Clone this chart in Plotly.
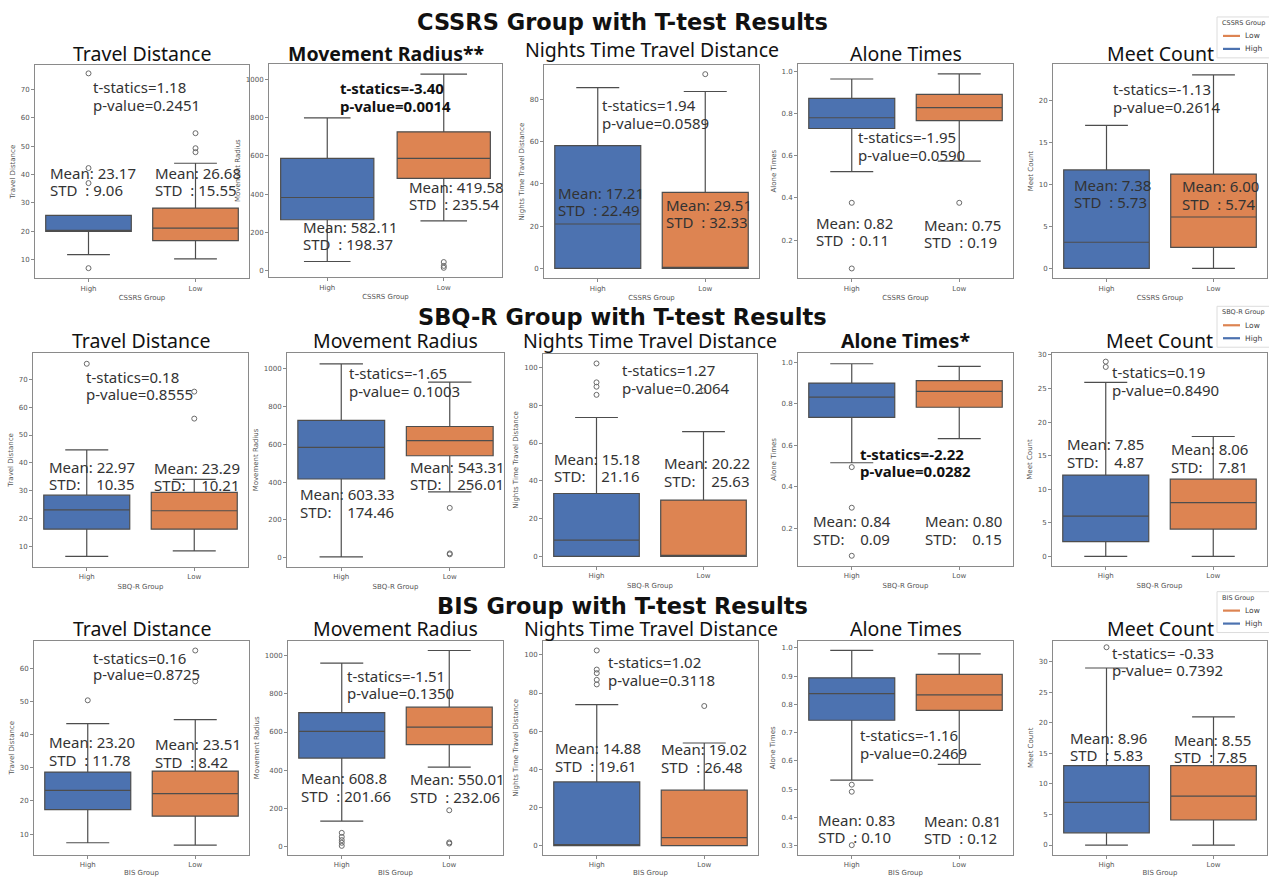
import plotly.graph_objects as go

W, H = 1269, 877

# ---------------- data ----------------
GROUPS = ["CSSRS Group", "SBQ-R Group", "BIS Group"]
ROW_TITLES = [g + " with T-test Results" for g in GROUPS]
METRICS = ["Travel Distance", "Movement Radius", "Nights Time Travel Distance", "Alone Times", "Meet Count"]
STARS = [["", "**", "", "", ""], ["", "", "", "*", ""], ["", "", "", "", ""]]
CATS = ["High", "Low"]
LEGEND_ORDER = ["Low", "High"]

# box statistics [row][metric]
HIGH_LO = [[11.8, 48, 0, 0.525, 0], [6.4, 5, 0, 0.516, 0], [7.4, 134, 0, 0.532, 0]]
HIGH_Q1 = [[20.0, 266, 0, 0.730, 0], [16.2, 417, 0, 0.735, 2.2], [17.4, 464, 0, 0.744, 2.0]]
HIGH_MED = [[20.0, 382, 21.0, 0.781, 3.1], [23.1, 584, 8.6, 0.833, 6.0], [23.2, 603, 0.5, 0.838, 7.0]]
HIGH_Q3 = [[25.6, 586, 58.0, 0.873, 11.7], [28.4, 727, 33.3, 0.901, 12.1], [28.7, 701, 33.4, 0.894, 13.0]]
HIGH_HI = [[25.6, 798, 85.4, 0.965, 17.0], [44.7, 1026, 73.5, 0.994, 25.9], [43.3, 960, 73.9, 0.991, 29.0]]
HIGH_OUT = [
    [[75.7, 42.3, 37.0, 7.0], [], [], [0.377, 0.065], []],
    [[75.6], [], [102.1, 92.1, 89.8, 85.5], [0.495, 0.299, 0.067], [29.0, 28.2]],
    [[50.3], [73, 52, 35, 21, 5], [102.3, 92.3, 90.4, 86.9, 84.5], [0.516, 0.491, 0.302], [32.4]],
]
LOW_LO = [[10.3, 260, 0, 0.575, 0], [8.4, 349, 0, 0.633, 0], [6.7, 417, 0, 0.588, 0]]
LOW_Q1 = [[16.7, 482, 0, 0.767, 2.5], [16.2, 540, 0, 0.784, 4.07], [15.4, 534, 0, 0.779, 4.1]]
LOW_MED = [[21.1, 586, 0.5, 0.829, 6.1], [22.8, 620, 0.5, 0.861, 8.0], [22.2, 626, 4.2, 0.834, 8.0]]
LOW_Q3 = [[28.2, 725, 35.9, 0.892, 11.2], [29.4, 695, 29.8, 0.913, 11.5], [29.0, 730, 29.1, 0.906, 13.0]]
LOW_HI = [[44.0, 1026, 83.6, 0.989, 23.0], [34.1, 930, 66.0, 0.981, 17.85], [44.5, 1026, 53.8, 0.979, 21.0]]
LOW_OUT = [
    [[54.6, 49.3, 47.9], [45, 25, 15], [91.8], [0.377], []],
    [[55.9, 65.6], [264, 23, 18], [87.7], [], []],
    [[65.3, 56.0], [191, 23, 17], [73.2], [], []],
]

T_STAT = [["1.18", "-3.40", "1.94", "-1.95", "-1.13"],
          ["0.18", "-1.65", "1.27", "-2.22", "0.19"],
          ["0.16", "-1.51", "1.02", "-1.16", " -0.33"]]
P_VALUE = [["0.2451", "0.0014", "0.0589", "0.0590", "0.2614"],
           ["0.8555", " 0.1003", "0.2064", "0.0282", "0.8490"],
           ["0.8725", "0.1350", "0.3118", "0.2469", " 0.7392"]]

MEAN_HIGH = [["23.17", "582.11", "17.21", "0.82", "7.38"],
             ["22.97", "603.33", "15.18", "0.84", "7.85"],
             ["23.20", "608.8", "14.88", "0.83", "8.96"]]
STD_HIGH = [["9.06", "198.37", "22.49", "0.11", "5.73"],
            ["10.35", "174.46", "21.16", "0.09", "4.87"],
            ["11.78", "201.66", "19.61", "0.10", "5.83"]]
MEAN_LOW = [["26.68", "419.58", "29.51", "0.75", "6.00"],
            ["23.29", "543.31", "20.22", "0.80", "8.06"],
            ["23.51", "550.01", "19.02", "0.81", "8.55"]]
STD_LOW = [["15.55", "235.54", "32.33", "0.19", "5.74"],
           ["10.21", "256.01", "25.63", "0.15", "7.81"],
           ["8.42", "232.06", "26.48", "0.12", "7.85"]]

# ---------------- layout / style ----------------
NB = "\u00a0"
LABEL_FMT = [("Mean: {}", "STD" + NB * 2 + ": {}"),
             ("Mean: {}", "STD:" + NB * 4 + "{}"),
             ("Mean: {}", "STD" + NB * 2 + ": {}")]

# axes frames in window pixels (left, right, top, bottom)
FRAMES = [
    [(35, 249, 63, 277), (269, 502, 62, 276), (544, 759, 63, 277), (798, 1013, 62, 277), (1053, 1267, 62, 277)],
    [(33, 248, 352, 566), (287, 504, 352, 566), (543, 757, 353, 565), (798, 1013, 352, 565), (1052, 1267, 352, 565)],
    [(34, 249, 640, 855), (288, 503, 640, 855), (543, 758, 640, 855), (798, 1013, 640, 855), (1053, 1267, 640, 855)],
]
Y_RANGE = [
    [[3.4, 78.7], [-35, 1080], [-4.7, 96.2], [0.018, 1.037], [-1.19, 24.3]],
    [[2.7, 79.4], [-47.5, 1083], [-4.9, 107], [0.019, 1.045], [-1.39, 30.25]],
    [[3.7, 68.3], [-43, 1078], [-4.9, 107.5], [0.267, 1.026], [-1.64, 33.5]],
]
Y_DTICK = [[10, 200, 20, 0.2, 5], [10, 200, 20, 0.2, 5], [10, 200, 20, 0.1, 5]]

# text positions in window pixels: (x_left, y_line1, y_line2)
T_POS = [
    [(91, 85, 103), (338, 86, 104), (600, 103, 121), (856, 135, 153), (1111, 87, 105)],
    [(84, 376, 393), (347, 372, 390), (620, 369, 387), (858, 453, 470), (1110, 371, 389)],
    [(91, 657, 674), (345, 676, 693), (606, 662, 680), (858, 735, 753), (1110, 652, 670)],
]
MH_POS = [
    [(48, 171, 188), (301, 226, 243), (556, 191, 208), (814, 222, 239), (1072, 183, 200)],
    [(47, 466, 483), (298, 493, 511), (552, 458, 475), (811, 520, 538), (1065, 443, 461)],
    [(47, 742, 760), (299, 778, 796), (553, 748, 766), (816, 820, 837), (1068, 738, 755)],
]
ML_POS = [
    [(153, 171, 188), (407, 185, 202), (664, 203, 221), (922, 224, 241), (1180, 184, 202)],
    [(152, 467, 484), (408, 466, 483), (662, 462, 480), (923, 520, 538), (1169, 448, 466)],
    [(153, 744, 762), (408, 779, 797), (659, 749, 767), (922, 821, 838), (1172, 740, 757)],
]
TITLE_Y = [[52, 52, 48, 52, 52], [339, 339, 339, 339, 339], [628, 628, 628, 628, 628]]
ROW_TITLE_Y = [20, 316, 605]
LEGEND_TOP = [15, 305, 591]
LEGEND_LEFT = 1217

BLUE = "#4C72B0"
ORANGE = "#DD8452"
LINE = "#4d4d4d"
TXT = "#333333"
FONT = "Noto Sans"
SMALL = "DejaVu Sans"


def fx(p):
    return p / W


def fy(p):
    return 1 - p / H


fig = go.Figure()
annotations = []
shapes = []
layout = {}

for r in range(3):
    for c in range(5):
        i = r * 5 + c + 1
        xr = "x" if i == 1 else f"x{i}"
        yr = "y" if i == 1 else f"y{i}"
        xkey = "xaxis" if i == 1 else f"xaxis{i}"
        ykey = "yaxis" if i == 1 else f"yaxis{i}"
        L, R, T, B = FRAMES[r][c]

        stats = [
            (0, CATS[0], HIGH_LO, HIGH_Q1, HIGH_MED, HIGH_Q3, HIGH_HI, HIGH_OUT, BLUE),
            (1, CATS[1], LOW_LO, LOW_Q1, LOW_MED, LOW_Q3, LOW_HI, LOW_OUT, ORANGE),
        ]
        for pos, nm, lo, q1, med, q3, hi, outs, col in stats:
            fig.add_trace(go.Box(
                x=[pos], lowerfence=[lo[r][c]], q1=[q1[r][c]], median=[med[r][c]],
                q3=[q3[r][c]], upperfence=[hi[r][c]], name=nm,
                width=0.8, whiskerwidth=0.5, fillcolor=col,
                line=dict(color=LINE, width=1.2), boxpoints=False,
                showlegend=False, hoverinfo="skip", xaxis=xr, yaxis=yr,
            ))
            o = outs[r][c]
            if o:
                fig.add_trace(go.Scatter(
                    x=[pos] * len(o), y=o, mode="markers", name=nm,
                    marker=dict(symbol="circle-open", size=5, color="#6a6a6a", line=dict(width=1)),
                    showlegend=False, hoverinfo="skip", xaxis=xr, yaxis=yr,
                ))

        axis_common = dict(showline=True, mirror=True, linecolor="#8a8a8a", linewidth=1,
                           showgrid=False, zeroline=False, ticks="outside", ticklen=3,
                           tickcolor="#8a8a8a", tickfont=dict(size=7, color="#555", family=SMALL))
        layout[xkey] = dict(domain=[fx(L), fx(R)], anchor=yr, range=[-0.5, 1.5],
                            tickmode="array", tickvals=[0, 1], ticktext=CATS,
                            title=dict(text=GROUPS[r], font=dict(size=7, color="#555", family=SMALL), standoff=3),
                            **axis_common)
        ydict = dict(domain=[fy(B), fy(T)], anchor=xr, range=Y_RANGE[r][c],
                     dtick=Y_DTICK[r][c], tick0=0,
                     title=dict(text=METRICS[c], font=dict(size=7, color="#555", family=SMALL), standoff=4),
                     **axis_common)
        if c == 3:
            ydict["tickformat"] = ".1f"
        layout[ykey] = ydict

        # subplot title
        star = STARS[r][c]
        ttl = METRICS[c] + star
        annotations.append(dict(
            x=fx((L + R) / 2), y=fy(TITLE_Y[r][c]), xref="paper", yref="paper",
            text=("<b>" + ttl + "</b>") if star else ttl, showarrow=False,
            xanchor="center", yanchor="middle",
            font=dict(size=19.5, color="#111", family=FONT)))

        # t-test text
        bold = bool(star)
        tx, ty1, ty2 = T_POS[r][c]
        for line_txt, yy in ((f"t-statics={T_STAT[r][c]}", ty1), (f"p-value={P_VALUE[r][c]}", ty2)):
            line_txt = line_txt.replace(" ", NB)
            annotations.append(dict(
                x=fx(tx), y=fy(yy), xref="paper", yref="paper",
                text=("<b>" + line_txt + "</b>") if bold else line_txt,
                showarrow=False, xanchor="left", yanchor="middle",
                font=dict(size=15, color=TXT if not bold else "#111", family=FONT)))

        # mean / std text
        f1, f2 = LABEL_FMT[r]
        for (px, y1, y2), m, s in ((MH_POS[r][c], MEAN_HIGH[r][c], STD_HIGH[r][c]),
                                   (ML_POS[r][c], MEAN_LOW[r][c], STD_LOW[r][c])):
            for line_txt, yy in ((f1.format(m), y1), (f2.format(s), y2)):
                annotations.append(dict(
                    x=fx(px), y=fy(yy), xref="paper", yref="paper",
                    text=line_txt.replace(" ", NB), showarrow=False,
                    xanchor="left", yanchor="middle",
                    font=dict(size=15, color=TXT, family=FONT)))

    # legend box for the row (seaborn style, top-right)
    top = LEGEND_TOP[r]
    shapes.append(dict(type="rect", xref="paper", yref="paper",
                       x0=fx(LEGEND_LEFT), x1=fx(W + 4), y0=fy(top), y1=fy(top + 41),
                       line=dict(color="#dcdcdc", width=1), fillcolor="rgba(255,255,255,0.85)",
                       layer="above"))
    annotations.append(dict(
        x=fx(LEGEND_LEFT + 3), y=fy(top + 6), xref="paper", yref="paper",
        text=GROUPS[r], showarrow=False, xanchor="left", yanchor="middle",
        font=dict(size=6.5, color="#444", family=SMALL)))
    for k, name in enumerate(LEGEND_ORDER):
        col = ORANGE if name == "Low" else BLUE
        yy = top + 19 + 13 * k
        shapes.append(dict(type="line", xref="paper", yref="paper",
                           x0=fx(LEGEND_LEFT + 6), x1=fx(LEGEND_LEFT + 23), y0=fy(yy), y1=fy(yy),
                           line=dict(color=col, width=2.2), layer="above"))
        annotations.append(dict(
            x=fx(LEGEND_LEFT + 26), y=fy(yy), xref="paper", yref="paper",
            text=name, showarrow=False, xanchor="left", yanchor="middle",
            font=dict(size=7.5, color="#444", family=SMALL)))

    # row title
    annotations.append(dict(
        x=fx(622), y=fy(ROW_TITLE_Y[r]), xref="paper", yref="paper",
        text="<b>" + ROW_TITLES[r] + "</b>", showarrow=False,
        xanchor="center", yanchor="middle",
        font=dict(size=22.5, color="#111", family=SMALL)))

fig.update_layout(
    width=W, height=H, margin=dict(l=0, r=0, t=0, b=0),
    paper_bgcolor="white", plot_bgcolor="white",
    boxmode="overlay", showlegend=False,
    annotations=annotations, shapes=shapes, **layout)

# remove the default page margin so the figure fills the window exactly
fig.write_html(
    "out.html",
    config={"displayModeBar": False},
    post_script="document.body.style.margin='0';"
                "document.documentElement.style.overflow='hidden';"
                "document.body.style.overflow='hidden';")
